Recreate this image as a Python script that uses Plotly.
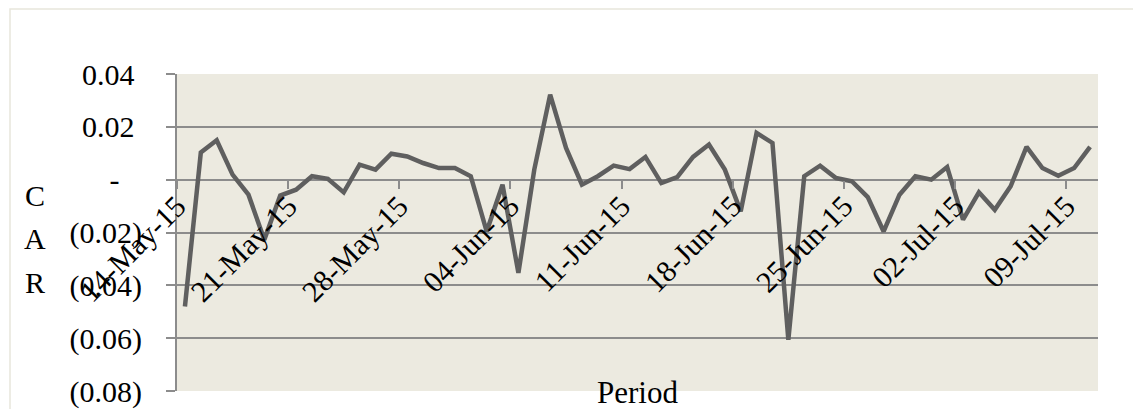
import plotly.graph_objects as go
import pandas as pd

# Daily cumulative abnormal return (CAR), 14-May-15 .. 10-Jul-15
dates = pd.date_range("2015-05-14", "2015-07-10", freq="D").strftime("%Y-%m-%d").tolist()
car = [
    -0.0480, 0.0103, 0.0149, 0.0019, -0.0057, -0.0227, -0.0060, -0.0038,
    0.0013, 0.0003, -0.0048, 0.0057, 0.0038, 0.0098, 0.0088, 0.0063,
    0.0044, 0.0044, 0.0013, -0.0196, -0.0019, -0.0353, 0.0038, 0.0322,
    0.0120, -0.0019, 0.0013, 0.0053, 0.0040, 0.0086, -0.0013, 0.0010,
    0.0086, 0.0133, 0.0038, -0.0120, 0.0177, 0.0139, -0.0606, 0.0013,
    0.0053, 0.0006, -0.0006, -0.0066, -0.0196, -0.0057, 0.0013, 0.0000,
    0.0048, -0.0151, -0.0048, -0.0114, -0.0025, 0.0124, 0.0044, 0.0015,
    0.0044, 0.0124,
]

# x-axis ticks (weekly) and labels
x_tick_dates = ["2015-05-14", "2015-05-21", "2015-05-28", "2015-06-04",
                "2015-06-11", "2015-06-18", "2015-06-25", "2015-07-02",
                "2015-07-09"]
x_tick_labels = ["14-May-15", "21-May-15", "28-May-15", "04-Jun-15",
                 "11-Jun-15", "18-Jun-15", "25-Jun-15", "02-Jul-15",
                 "09-Jul-15"]

# y-axis ticks in accounting style
y_tick_values = [0.04, 0.02, 0.0, -0.02, -0.04, -0.06, -0.08]
y_tick_labels = ["0.04\u2008", "0.02\u2008", "-\u2007\u2008", "(0.02)",
                 "(0.04)", "(0.06)", "(0.08)"]

x_range = ["2015-05-14", "2015-07-11"]
y_range = [-0.08, 0.04]

FONT = "Liberation Serif"
GRID = "#8C8C8C"

fig = go.Figure()
fig.add_trace(go.Scatter(
    x=dates, y=car, mode="lines",
    xperiod=86400000, xperiodalignment="middle",
    line=dict(color="#5F5F5F", width=4.5),
    showlegend=False, hoverinfo="skip",
))

# the category axis crosses the value axis at zero
zero_pos = (0 - y_range[0]) / (y_range[1] - y_range[0])

fig.update_layout(
    width=1133, height=409,
    margin=dict(l=177, r=35, t=74, b=18, pad=0),
    paper_bgcolor="white",
    plot_bgcolor="#ECEAE0",
    font=dict(family=FONT, size=30, color="black"),
    xaxis=dict(
        type="date", range=x_range,
        anchor="free", position=zero_pos,
        tickvals=x_tick_dates, ticktext=x_tick_labels,
        tickangle=-45, ticks="outside", ticklen=8, tickwidth=1.5, tickcolor=GRID,
        ticklabelstandoff=-12,
        showgrid=False, showline=False, zeroline=False,
        tickfont=dict(family=FONT, size=30, color="black"),
        automargin=False,
    ),
    yaxis=dict(
        range=y_range,
        tickvals=y_tick_values, ticktext=y_tick_labels,
        ticks="outside", ticklen=9, tickwidth=1.5, tickcolor=GRID,
        ticklabelstandoff=18,
        showgrid=True, gridcolor=GRID, gridwidth=2,
        zeroline=True, zerolinecolor=GRID, zerolinewidth=2,
        showline=True, linecolor=GRID, linewidth=2,
        tickfont=dict(family=FONT, size=30, color="black"),
        automargin=False,
    ),
)

# chart-area border
fig.add_shape(type="rect", xref="paper", yref="paper",
              x0=(10 - 177) / 921, x1=(1140 - 177) / 921,
              y0=(391 - 415) / 317, y1=(391 - 9) / 317,
              line=dict(color="#E8E6DC", width=1.5), layer="below")

# axis titles
fig.add_annotation(text="Period", xref="paper", yref="paper",
                   x=0.5, y=-0.005, xanchor="center", yanchor="middle",
                   showarrow=False, font=dict(family=FONT, size=31))
for i, ch in enumerate("CAR"):
    fig.add_annotation(text=ch, xref="paper", yref="paper",
                       x=(35 - 177) / 921, y=(391 - (195 + 43.5 * i)) / 317,
                       xanchor="center", yanchor="middle",
                       showarrow=False, font=dict(family=FONT, size=30))

fig.write_html("out.html")
